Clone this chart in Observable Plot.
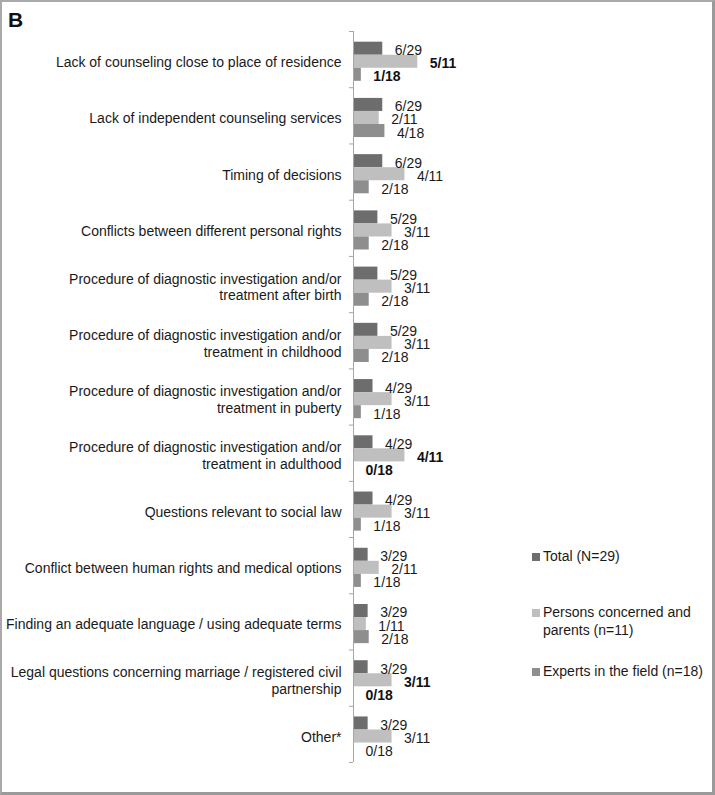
<!DOCTYPE html>
<html>
<head>
<meta charset="utf-8">
<script src="https://cdn.jsdelivr.net/npm/d3@7"></script>
<script src="https://cdn.jsdelivr.net/npm/@observablehq/plot@0.6"></script>
<style>
  html, body { margin: 0; padding: 0; background: #fff; }
  #wrap { position: relative; width: 715px; height: 795px; overflow: hidden; font-family: "Liberation Sans", Arial, sans-serif; color: #1a1a1a; }
  #wrap svg { position: absolute; left: 0; top: 0; }
  #frame { position: absolute; inset: 0; box-sizing: border-box; border-left: 2px solid #a9a9a9; border-top: 2px solid #a9a9a9; border-right: 3px solid #9a9a9a; border-bottom: 3px solid #9a9a9a; pointer-events: none; }
  #panel { position: absolute; left: 8px; top: 9px; font-size: 21px; line-height: 21px; font-weight: bold; color: #111; }
  .leg { position: absolute; left: 543px; font-size: 14px; line-height: 18px; color: #1a1a1a; }
  .sw { position: absolute; left: 532px; width: 8px; height: 8px; }
</style>
</head>
<body>
<div id="wrap">
  <div id="chart"></div>
  <div id="panel">B</div>
  <div id="legend"></div>
  <div id="frame"></div>
</div>
<script>
const categories = [
  "Lack of counseling close to place of residence",
  "Lack of independent counseling services",
  "Timing of decisions",
  "Conflicts between different personal rights",
  "Procedure of diagnostic investigation and/or\ntreatment after birth",
  "Procedure of diagnostic investigation and/or\ntreatment in childhood",
  "Procedure of diagnostic investigation and/or\ntreatment in puberty",
  "Procedure of diagnostic investigation and/or\ntreatment in adulthood",
  "Questions relevant to social law",
  "Conflict between human rights and medical options",
  "Finding an adequate language / using adequate terms",
  "Legal questions concerning marriage / registered civil\npartnership",
  "Other*"
];
const seriesNames = ["Total (N=29)", "Persons concerned and parents (n=11)", "Experts in the field (n=18)"];
const seriesN = [29, 11, 18];
const totalCounts   = [6, 6, 6, 5, 5, 5, 4, 4, 4, 3, 3, 3, 3];
const personsCounts = [5, 2, 4, 3, 3, 3, 3, 4, 3, 2, 1, 3, 3];
const expertsCounts = [1, 4, 2, 2, 2, 2, 1, 0, 1, 1, 2, 0, 0];
const totalBold   = [0, 0, 0, 0, 0, 0, 0, 0, 0, 0, 0, 0, 0];
const personsBold = [1, 0, 0, 0, 0, 0, 0, 1, 0, 0, 0, 1, 0];
const expertsBold = [1, 0, 0, 0, 0, 0, 0, 1, 0, 0, 0, 1, 0];
const seriesColors = ["#6d6d6d", "#bfbfbf", "#8e8e8e"];
const axisColor = "#a6a6a6";

const countsBySeries = [totalCounts, personsCounts, expertsCounts];
const boldBySeries = [totalBold, personsBold, expertsBold];

const PAD = 0.19;   // top padding within a category band (fraction of band)
const H = 0.232;    // bar thickness (fraction of band)

const rows = categories.flatMap((c, i) => seriesNames.map((s, j) => ({
  category: c, i, j, series: s,
  count: countsBySeries[j][i], n: seriesN[j],
  frac: countsBySeries[j][i] / seriesN[j],
  label: `${countsBySeries[j][i]}/${seriesN[j]}`,
  bold: boldBySeries[j][i] === 1
})));

const barTop = d => d.i + PAD + d.j * H;
const barMid = d => d.i + PAD + (d.j + 0.5) * H;

const chart = Plot.plot({
  width: 715,
  height: 795,
  marginLeft: 353,
  marginRight: 0,
  marginTop: 31,
  marginBottom: 33,
  style: { fontFamily: "'Liberation Sans', Arial, sans-serif", fontSize: "14px", color: "#1a1a1a", background: "transparent" },
  x: { domain: [0, 362 / 141.4], axis: null },
  y: { domain: [0, categories.length], reverse: true, axis: null },
  color: { domain: seriesNames, range: seriesColors },
  marks: [
    Plot.rect(rows.filter(d => d.count > 0), { x1: () => 0, x2: "frac", y1: barTop, y2: d => barTop(d) + H, fill: "series", inset: 0 }),
    Plot.ruleX([0], { y1: 0, y2: categories.length, stroke: axisColor, strokeWidth: 1 }),
    Plot.axisY({ ticks: d3.range(categories.length + 1), tickSize: 4, tickFormat: () => "", stroke: axisColor, label: null }),
    Plot.text(categories, {
      x: 0, y: (d, i) => i + PAD + 1.5 * H, text: d => d,
      textAnchor: "end", dx: -12, lineHeight: 1.2, fontSize: 14, fill: "#1a1a1a"
    }),
    Plot.text(rows.filter(d => !d.bold), {
      x: "frac", y: barMid, text: "label", textAnchor: "start", dx: 12, dy: 2, fontSize: 14, fill: "#1a1a1a"
    }),
    Plot.text(rows.filter(d => d.bold), {
      x: "frac", y: barMid, text: "label", textAnchor: "start", dx: 12, dy: 2, fontSize: 14, fontWeight: "bold", fill: "#111"
    })
  ]
});
document.getElementById("chart").appendChild(chart);

// Legend
const legendTops = [547, 603, 662];
const legendText = ["Total (N=29)", "Persons concerned and<br>parents (n=11)", "Experts in the field (n=18)"];
const legend = document.getElementById("legend");
seriesNames.forEach((s, j) => {
  const sw = document.createElement("div");
  sw.className = "sw";
  sw.style.top = (legendTops[j] + 6) + "px";
  sw.style.background = seriesColors[j];
  legend.appendChild(sw);
  const t = document.createElement("div");
  t.className = "leg";
  t.style.top = legendTops[j] + "px";
  t.innerHTML = legendText[j];
  legend.appendChild(t);
});
</script>
</body>
</html>
